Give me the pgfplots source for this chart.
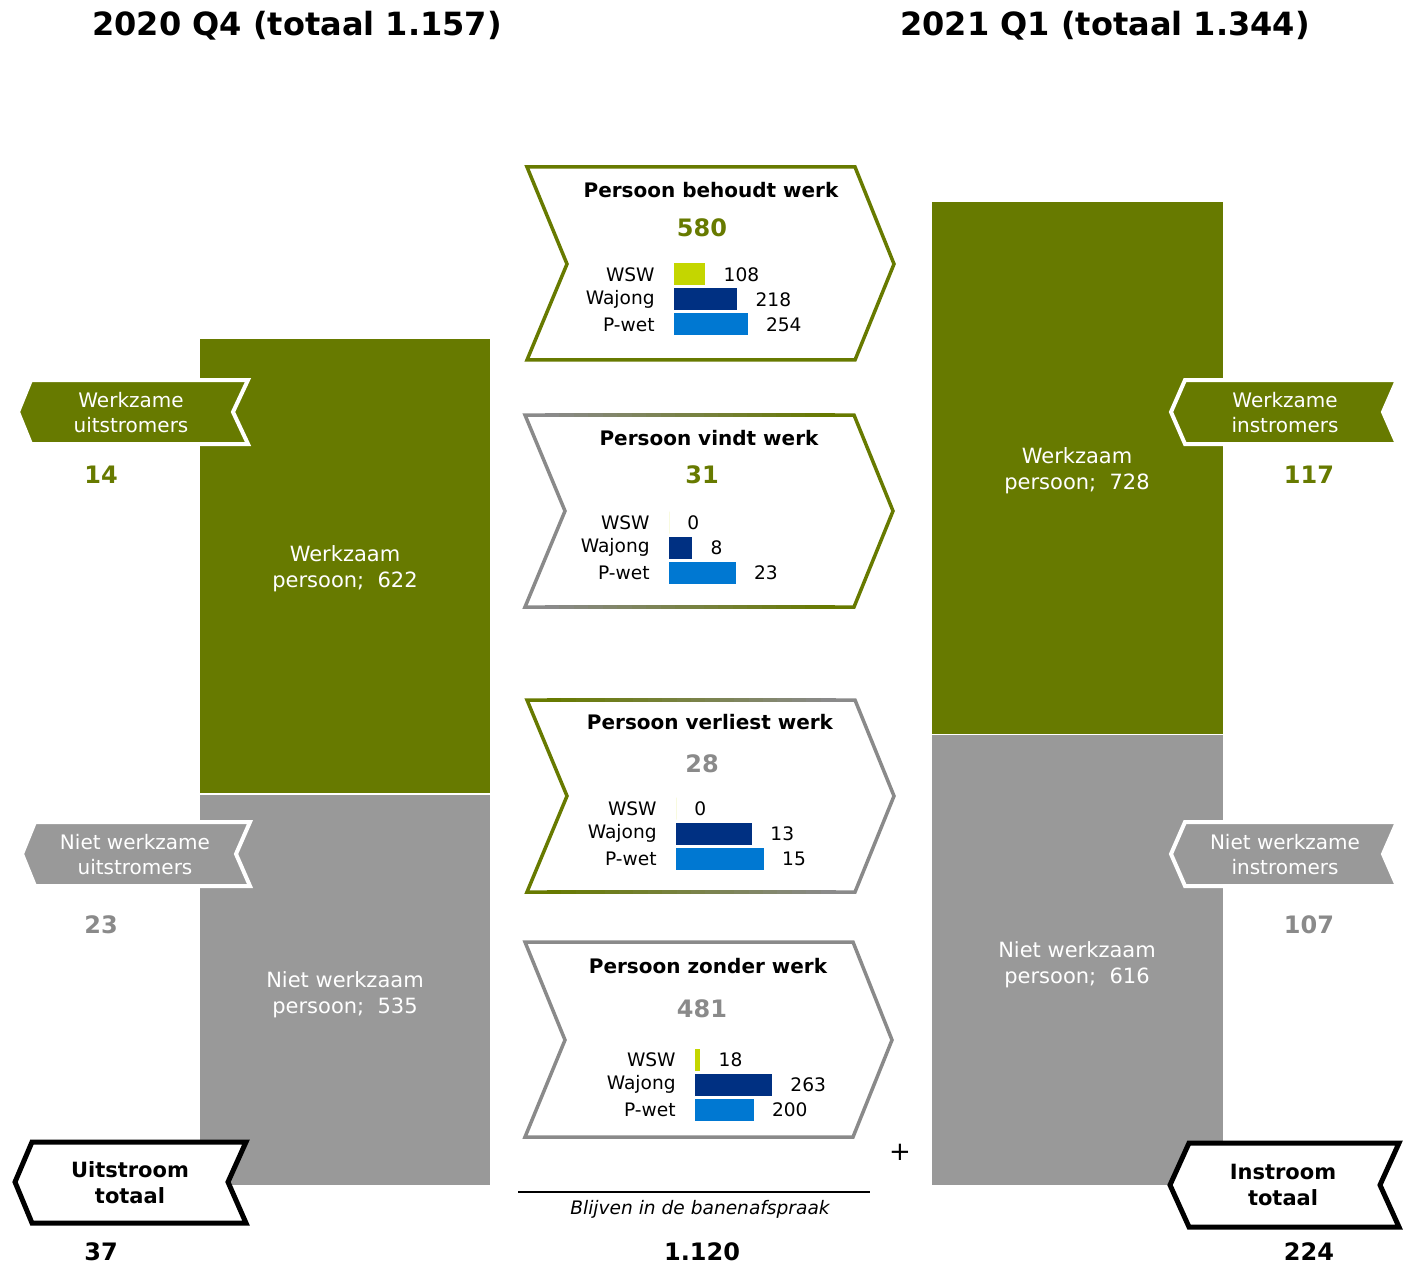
\documentclass[border=0pt]{standalone}
\usepackage{fontspec}
\setmainfont{DejaVu Sans}
\usepackage{pgfplots}
\pgfplotsset{compat=1.18}
\definecolor{wgreen}{RGB}{103,122,0}
\definecolor{wgrey}{RGB}{153,153,153}
\definecolor{bgrey}{RGB}{138,138,138}
\definecolor{cwsw}{RGB}{196,214,0}
\definecolor{cwaj}{RGB}{0,48,130}
\definecolor{cpw}{RGB}{0,120,210}
\newcommand{\fs}[2]{\fontsize{#1}{#2}\selectfont}
\newcommand{\gradbox}[8]{%
  \pgfmathsetmacro{\ym}{(#2+#3)/2}%
  \draw[#7, line width=1.75pt, line join=miter] (#1+20,#2) -- (#1,#2) -- (#4,\ym) -- (#1,#3) -- (#1+20,#3);
  \draw[#8, line width=1.75pt, line join=miter] (#5-20,#2) -- (#5,#2) -- (#6,\ym) -- (#5,#3) -- (#5-20,#3);
  \foreach \i in {0,...,19}{%
    \pgfmathsetmacro{\xa}{#1+20+\i*(#5-#1-40)/20}%
    \pgfmathsetmacro{\xb}{#1+20+(\i+1)*(#5-#1-40)/20+0.6}%
    \pgfmathtruncatemacro{\pc}{100-\i*100/19}%
    \draw[color=#7!\pc!#8, line width=1.75pt] (\xa,#2) -- (\xb,#2) (\xa,#3) -- (\xb,#3);
  }%
}
\pgfplotsset{mini/.style={
  xbar, scale only axis, width=50pt, height=37.5pt, anchor=south west,
  xmin=0, ymin=-0.5, ymax=2.5, enlargelimits=false, clip=false,
  axis line style={draw=none}, major tick length=0pt, xtick=\empty,
  ytick={0,1,2}, yticklabels={P-wet,Wajong,WSW},
  yticklabel style={font=\fs{9.3}{11}, inner sep=0pt, anchor=east},
  yticklabel shift=9.5pt,
  bar width=0.88,
  nodes near coords, nodes near coords align=horizontal,
  nodes near coords style={font=\fs{9.3}{11}, inner sep=0pt, anchor=west, xshift=9pt, text=black},
  /pgf/number format/assume math mode=true,
}}
\begin{document}
\begin{tikzpicture}
\begin{axis}[
  at={(0pt,0pt)}, anchor=south west, scale only axis,
  width=703pt, height=633pt,
  xmin=0, xmax=1406, ymin=-109.15, ymax=1618.2,
  hide axis, ybar stacked, bar width=291.5, clip=false,
]
\addplot[fill=wgrey, draw=white, line width=0.6pt] coordinates {(345,535) (1077.5,616)};
\addplot[fill=wgreen, draw=white, line width=0.6pt] coordinates {(345,622) (1077.5,728)};
\end{axis}
\begin{scope}[x=0.5pt, y=-0.5pt, yshift=633pt]
 \node[text=white, align=center, font=\fs{10.5}{13}] at (345,569) {Werkzaam\\persoon;~~622};
 \node[text=white, align=center, font=\fs{10.5}{13}] at (345,995) {Niet werkzaam\\persoon;~~535};
 \node[text=white, align=center, font=\fs{10.5}{13}] at (1077,471) {Werkzaam\\persoon;~~728};
 \node[text=white, align=center, font=\fs{10.5}{13}] at (1077,965) {Niet werkzaam\\persoon;~~616};
 \node[font=\bfseries\fs{16}{19}] at (297,26) {2020 Q4 (totaal 1.157)};
 \node[font=\bfseries\fs{16}{19}] at (1105,26) {2021 Q1 (totaal 1.344)};
 % side arrows
 \filldraw[fill=wgreen, draw=white, line width=2pt, line join=miter] (31,380) -- (248,380) -- (233,412) -- (248,444) -- (31,444) -- (18,412) -- cycle;
 \filldraw[fill=wgrey, draw=white, line width=2pt, line join=miter] (35,822) -- (250,822) -- (236,854) -- (250,886) -- (35,886) -- (22,854) -- cycle;
 \filldraw[fill=wgreen, draw=white, line width=2pt, line join=miter] (1185,380) -- (1397,380) -- (1383,412) -- (1397,444) -- (1185,444) -- (1171,412) -- cycle;
 \filldraw[fill=wgrey, draw=white, line width=2pt, line join=miter] (1185,822) -- (1397,822) -- (1383,854) -- (1397,886) -- (1185,886) -- (1171,854) -- cycle;
 \filldraw[fill=white, draw=black, line width=2.5pt, line join=miter] (32,1142) -- (246,1142) -- (228,1182) -- (246,1223) -- (32,1223) -- (15,1182) -- cycle;
 \filldraw[fill=white, draw=black, line width=2.5pt, line join=miter] (1189,1143) -- (1399,1143) -- (1380,1185) -- (1399,1227) -- (1189,1227) -- (1170,1185) -- cycle;
 \node[text=white, align=center, font=\fs{10}{12.5}] at (131,413) {Werkzame\\uitstromers};
 \node[text=white, align=center, font=\fs{10}{12.5}] at (135,855) {Niet werkzame\\uitstromers};
 \node[text=white, align=center, font=\fs{10}{12.5}] at (1285,413) {Werkzame\\instromers};
 \node[text=white, align=center, font=\fs{10}{12.5}] at (1285,855) {Niet werkzame\\instromers};
 \node[align=center, font=\bfseries\fs{10.5}{13}] at (130,1183) {Uitstroom\\totaal};
 \node[align=center, font=\bfseries\fs{10.5}{13}] at (1283,1185) {Instroom\\totaal};
 \node[text=wgreen, font=\bfseries\fs{12}{14}] at (101,475) {14};
 \node[text=bgrey, font=\bfseries\fs{12}{14}] at (101,925) {23};
 \node[font=\bfseries\fs{12}{14}] at (101,1252) {37};
 \node[text=wgreen, font=\bfseries\fs{12}{14}] at (1309,475) {117};
 \node[text=bgrey, font=\bfseries\fs{12}{14}] at (1309,925) {107};
 \node[font=\bfseries\fs{12}{14}] at (1309,1252) {224};
 % center boxes
 \draw[wgreen, line width=1.75pt, line join=miter] (527,167) -- (855,167) -- (894,264) -- (855,360) -- (527,360) -- (567,264) -- cycle;
 \gradbox{525}{415}{607}{565}{854}{893}{bgrey}{wgreen}
 \gradbox{527}{700}{892}{567}{855}{894}{wgreen}{bgrey}
 \draw[bgrey, line width=1.75pt, line join=miter] (525,942) -- (853,942) -- (892,1040) -- (853,1137) -- (525,1137) -- (565,1040) -- cycle;
 \node[font=\bfseries\fs{10}{12}] at (711,190) {Persoon behoudt werk};
 \node[text=wgreen, font=\bfseries\fs{12}{14}] at (702,228) {580};
 \node[font=\bfseries\fs{10}{12}] at (709,438) {Persoon vindt werk};
 \node[text=wgreen, font=\bfseries\fs{12}{14}] at (702,475) {31};
 \node[font=\bfseries\fs{10}{12}] at (710,722) {Persoon verliest werk};
 \node[text=bgrey, font=\bfseries\fs{12}{14}] at (702,764) {28};
 \node[font=\bfseries\fs{10}{12}] at (708,966) {Persoon zonder werk};
 \node[text=bgrey, font=\bfseries\fs{12}{14}] at (702,1009) {481};
 % bottom
 \node[font=\fs{13}{15}] at (900,1152) {+};
 \draw[line width=1pt] (518,1192) -- (870,1192);
 \node[font=\itshape\fs{9.3}{11}] at (700,1209) {Blijven in de banenafspraak};
 \node[font=\bfseries\fs{12}{14}] at (702,1252) {1.120};
\end{scope}
% mini charts
\begin{axis}[mini, at={(337pt,464.5pt)}, xmax=344.8]
\addplot[fill=cwsw, draw=none, bar shift=0pt] coordinates {(108,2)};
\addplot[fill=cwaj, draw=none, bar shift=0pt] coordinates {(218,1)};
\addplot[fill=cpw, draw=none, bar shift=0pt] coordinates {(254,0)};
\end{axis}
\begin{axis}[mini, at={(334.5pt,340.5pt)}, xmax=34.48]
\addplot[fill=cwsw, draw=none, bar shift=0pt] coordinates {(0,2)};
\addplot[fill=cwaj, draw=none, bar shift=0pt] coordinates {(8,1)};
\addplot[fill=cpw, draw=none, bar shift=0pt] coordinates {(23,0)};
\end{axis}
\begin{axis}[mini, at={(338pt,197.5pt)}, xmax=17.09]
\addplot[fill=cwsw, draw=none, bar shift=0pt] coordinates {(0,2)};
\addplot[fill=cwaj, draw=none, bar shift=0pt] coordinates {(13,1)};
\addplot[fill=cpw, draw=none, bar shift=0pt] coordinates {(15,0)};
\end{axis}
\begin{axis}[mini, at={(347.5pt,72pt)}, xmax=341.3]
\addplot[fill=cwsw, draw=none, bar shift=0pt] coordinates {(18,2)};
\addplot[fill=cwaj, draw=none, bar shift=0pt] coordinates {(263,1)};
\addplot[fill=cpw, draw=none, bar shift=0pt] coordinates {(200,0)};
\end{axis}
\pgfresetboundingbox
\path (0pt,0pt) rectangle (703pt,633pt);
\end{tikzpicture}
\end{document}
